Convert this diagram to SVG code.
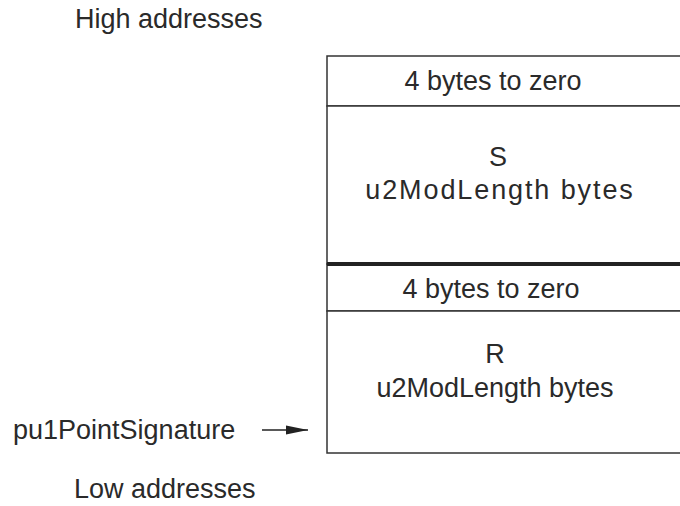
<svg xmlns="http://www.w3.org/2000/svg" width="680" height="506" viewBox="0 0 680 506">
  <style>
    text { font-family: "Liberation Sans", Arial, sans-serif; font-size: 27px; fill: #2a2a2a; }
    .c { text-anchor: middle; }
    .box { fill: #fff; stroke: #333; stroke-width: 1.5; }
    .thick { stroke: #222; stroke-width: 4; }
    .conn { stroke: #222; stroke-width: 1.5; fill: none; }
  </style>
  <defs>
    <marker id="ah" markerWidth="22" markerHeight="10" refX="22" refY="5" orient="auto" markerUnits="userSpaceOnUse">
      <polygon points="0,0.5 22,5 0,9.5" fill="#222"/>
    </marker>
  </defs>
  <rect width="680" height="506" fill="#fff"/>

  <g id="high-label">
    <text x="75" y="28">High addresses</text>
  </g>

  <g id="s-zero">
    <rect class="box" x="327" y="56" width="380" height="50"/>
    <text class="c" x="493" y="90">4 bytes to zero</text>
  </g>
  <g id="s-block">
    <rect class="box" x="327" y="106" width="380" height="158"/>
    <text class="c" x="498" y="166">S</text>
    <text class="c" x="500" y="199" style="letter-spacing:1.9px">u2ModLength bytes</text>
  </g>
  <g id="r-zero">
    <rect class="box" x="327" y="264" width="380" height="47"/>
    <text class="c" x="491" y="298">4 bytes to zero</text>
  </g>
  <g id="r-block">
    <rect class="box" x="327" y="311" width="380" height="142"/>
    <text class="c" x="495" y="363">R</text>
    <text class="c" x="495" y="397">u2ModLength bytes</text>
  </g>
  <line class="thick" x1="327" y1="264" x2="690" y2="264"/>

  <g id="pointer-label">
    <text x="13" y="439">pu1PointSignature</text>
  </g>

  <g id="connectors">
    <line class="conn" x1="262" y1="430" x2="308" y2="430" marker-end="url(#ah)"/>
  </g>

  <g id="low-label">
    <text x="74" y="498">Low addresses</text>
  </g>
</svg>
